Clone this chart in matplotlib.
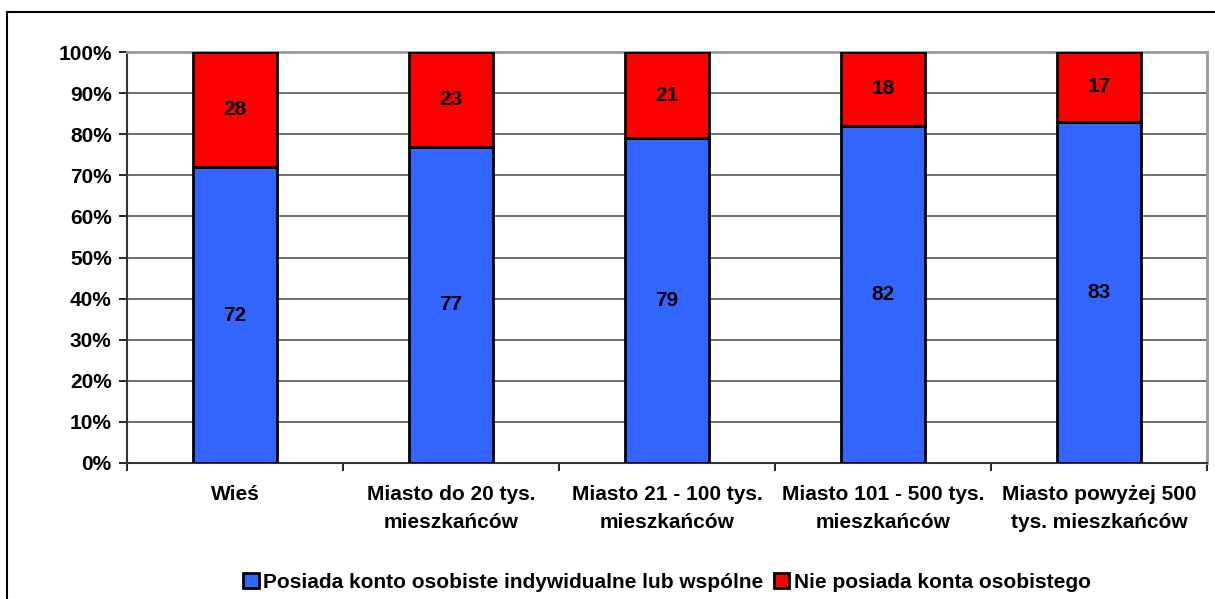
import matplotlib.pyplot as plt
from matplotlib.patches import Rectangle
import numpy as np

plt.rcParams['font.family'] = ['Liberation Sans', 'DejaVu Sans']
plt.rcParams['font.weight'] = 'bold'

categories = ["Wieś", "Miasto do 20 tys.\nmieszkańców", "Miasto 21 - 100 tys.\nmieszkańców",
              "Miasto 101 - 500 tys.\nmieszkańców", "Miasto powyżej 500\ntys. mieszkańców"]
has_account = [72, 77, 79, 82, 83]
no_account = [28, 23, 21, 18, 17]
series_names = ["Posiada konto osobiste indywidualne lub wspólne", "Nie posiada konta osobistego"]
yticks = [0, 10, 20, 30, 40, 50, 60, 70, 80, 90, 100]

fs = 15

fig = plt.figure(figsize=(12.15, 5.99), dpi=100)
fig.patches.append(Rectangle((7 / 1215, -0.05), 1.1, 1 - 12 / 599 + 0.05, transform=fig.transFigure,
                             fill=False, edgecolor='black', linewidth=1.5))
fig.text(227 / 1215, 1.0 + 9 / 599, "y", fontsize=fs, ha='center', va='baseline', fontweight='normal')

ax = fig.add_axes([127 / 1215, 1 - 463 / 599, (1207 - 127) / 1215, (463 - 52) / 599])
x = np.arange(len(categories))
w = 0.39
ax.bar(x, has_account, w, color='#3366ff', edgecolor='black', linewidth=2, label=series_names[0], zorder=3)
ax.bar(x, no_account, w, bottom=has_account, color='#ff0000', edgecolor='black', linewidth=2,
       label=series_names[1], zorder=3)
for i in range(len(categories)):
    ax.text(x[i], has_account[i] / 2, str(has_account[i]), ha='center', va='center', fontsize=fs,
            fontweight='bold', zorder=4)
    ax.text(x[i], has_account[i] + no_account[i] / 2, str(no_account[i]), ha='center', va='center',
            fontsize=fs, fontweight='bold', zorder=4)

ax.set_xlim(-0.5, len(categories) - 0.5)
ax.set_ylim(0, 100)
ax.set_yticks(yticks)
ax.set_yticklabels([f"{v}%" for v in yticks], fontsize=fs, fontweight='bold')
ax.yaxis.grid(True, color='#555555', linewidth=1.2, zorder=0)
ax.set_xticks(np.arange(len(categories) + 1) - 0.5)
ax.set_xticklabels([])
ax.set_xticks(x, minor=True)
ax.set_xticklabels(categories, minor=True, fontsize=fs, fontweight='bold', linespacing=1.6)
ax.tick_params(axis='x', which='minor', length=0, pad=16)
ax.tick_params(axis='x', which='major', length=6, width=1.2, direction='out')
ax.tick_params(axis='y', length=6, width=1.2, direction='out', pad=5)
for side in ['top', 'right']:
    ax.spines[side].set_color('#999999')
    ax.spines[side].set_linewidth(2)
for side in ['left', 'bottom']:
    ax.spines[side].set_color('#333333')
    ax.spines[side].set_linewidth(1.5)

ax.legend(loc='center', bbox_to_anchor=(0.5, -0.29), ncol=2, frameon=False,
          prop={'weight': 'bold', 'size': fs}, handlelength=0.75, handleheight=0.75, handletextpad=0.2,
          columnspacing=0.5)

fig.savefig("out.png", dpi=100)
